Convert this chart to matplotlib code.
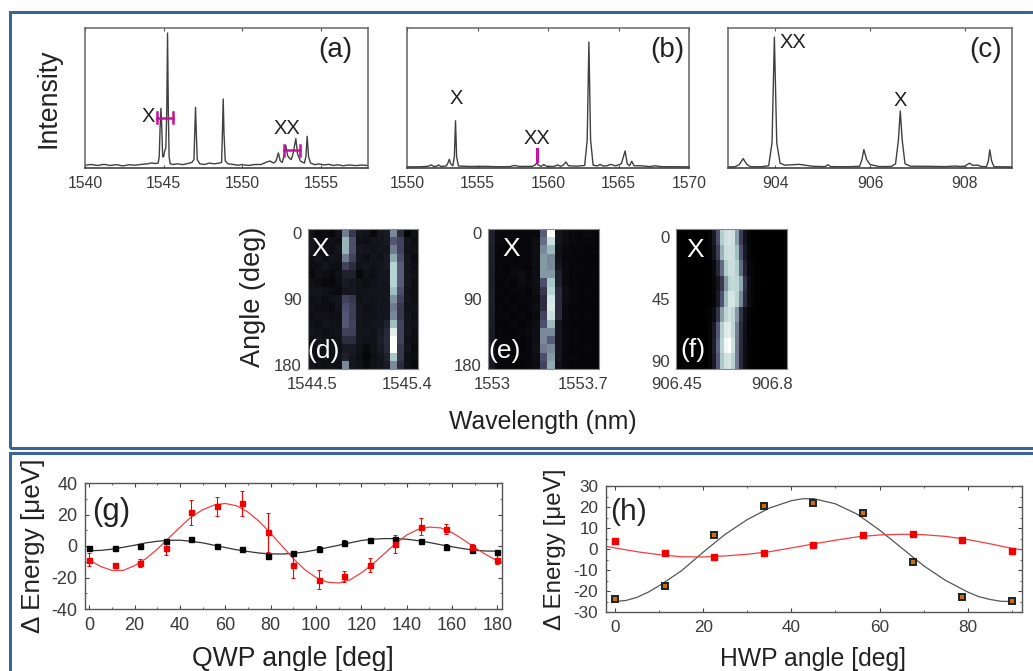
import matplotlib
matplotlib.use("Agg")
import matplotlib.pyplot as plt
from matplotlib.patches import Rectangle

plt.rcParams['font.family'] = ['Liberation Sans', 'DejaVu Sans']
plt.rcParams['axes.unicode_minus'] = False

W, H = 1033, 671
TEXT = '#3a3a3a'
PINK = '#c8109c'
FRAME = '#3c6496'

# spectra (intensity in % of the panel height)
a_x = [1540, 1540.4, 1540.8, 1541.2, 1541.6, 1542, 1542.4, 1542.8, 1543.2, 1543.6, 1544, 1544.2, 1544.5, 1544.65,
       1544.72, 1544.78, 1544.83, 1544.88, 1544.94, 1545.0, 1545.08, 1545.14, 1545.2, 1545.25, 1545.3, 1545.35,
       1545.42, 1545.6, 1545.9, 1546.2, 1546.5, 1546.8, 1546.93, 1546.98, 1547.03, 1547.08, 1547.14, 1547.3,
       1547.6, 1547.9, 1548.2, 1548.5, 1548.69, 1548.74, 1548.79, 1548.84, 1548.92, 1549.1, 1549.4, 1549.7,
       1550, 1550.4, 1550.8, 1551.2, 1551.5, 1551.76, 1552, 1552.15, 1552.3, 1552.42, 1552.55, 1552.68, 1552.77,
       1552.88, 1553.0, 1553.12, 1553.25, 1553.41, 1553.52, 1553.7, 1553.95, 1554.05, 1554.13, 1554.22, 1554.35,
       1554.6, 1554.9, 1555.2, 1555.5, 1555.8, 1556.1, 1556.4, 1556.8, 1557.2, 1557.6, 1558]
a_y = [2, 2.5, 1.8, 2.6, 1.8, 2.4, 1.5, 2.3, 2, 2.6, 3, 3.6, 3.2, 3.5,
       8, 30, 42.6, 30, 8, 8, 12.7, 14, 40, 96.4, 40, 8,
       3, 2.5, 3, 2.4, 3.1, 4, 6, 25, 43.3, 25, 6, 3,
       2.5, 3.5, 3, 3.4, 4, 25, 49.3, 25, 5, 3, 2.6, 2,
       2.4, 1.8, 2.5, 2.5, 4, 5, 3.5, 5, 10.8, 5, 4, 10, 16.3,
       9, 7, 6, 11, 21, 10, 5, 3.5, 8, 22.7, 8, 3.5,
       2.4, 2.9, 2.2, 2.6, 1.8, 2.3, 1.6, 2.2, 1.7, 2.1, 1.8]

b_x = [1550, 1551, 1551.5, 1551.7, 1551.9, 1552.1, 1552.24, 1552.4, 1552.8, 1552.92, 1553.0, 1553.1, 1553.25, 1553.36,
       1553.44, 1553.52, 1553.65, 1554.5, 1555.5, 1556.5, 1557.3, 1557.6, 1558, 1558.9, 1559.1, 1559.2, 1559.3, 1559.5,
       1559.7, 1559.9, 1560.4, 1560.7, 1560.9, 1561.1, 1561.27, 1561.45, 1562, 1562.6, 1562.78, 1562.9, 1563.02, 1563.2,
       1563.5, 1563.7, 1563.9, 1564.2, 1564.45, 1564.8, 1565.2, 1565.47, 1565.62, 1565.78, 1565.94, 1566.1, 1566.6,
       1567.2, 1567.6, 1568, 1568.8, 1569.4, 1570]
b_y = [0.8, 0.9, 1.2, 2.2, 1.1, 1.2, 2.2, 1.1, 1.5, 4, 6.2, 3, 1.6, 8,
       33.7, 8, 1.4, 1.1, 1.2, 0.9, 1.0, 1.8, 1.1, 1.2, 2.2, 3.8, 2.2, 1.2,
       2.4, 1.2, 1.1, 2.2, 1.1, 2.2, 4.3, 1.6, 1.3, 1.8, 20, 90, 20, 2,
       1.5, 2.6, 1.4, 1.6, 2.6, 1.5, 3, 12.2, 3, 1.6, 4.8, 1.6, 1.6,
       1, 1.6, 1, 0.9, 0.9, 0.8]

c_x = [903, 903.15, 903.24, 903.32, 903.4, 903.48, 903.7, 903.86, 903.93, 903.98, 904.03, 904.1, 904.2, 904.5,
       904.8, 905.05, 905.11, 905.17, 905.5, 905.78, 905.83, 905.87, 905.93, 906, 906.2, 906.45, 906.54, 906.6, 906.64,
       906.68, 906.74, 906.85, 907.2, 907.6, 907.8, 907.9, 908.0, 908.1, 908.18, 908.26, 908.34, 908.46, 908.5, 908.53,
       908.57, 908.62, 909]
c_y = [0.8, 0.9, 2.5, 6.7, 2.5, 0.9, 0.9, 1.6, 18, 93.5, 18, 3.5, 2, 2.6,
       1.2, 1, 2.3, 1, 0.9, 1.2, 6, 13.2, 6, 2.5, 1, 1.1, 3, 20, 40.7,
       20, 3, 1.3, 1.2, 1, 1.4, 1.1, 1.3, 3.4, 1.8, 2.2, 1.2, 0.9, 5, 13,
       5, 0.9, 0.8]

# angle maps, % brightness, one list per row (0 deg at the top)
d_rows = [
    [8, 5, 6, 4, 8, 50, 25, 10, 8, 4, 10, 12, 55, 20, 3, 8],
    [10, 7, 6, 8, 7, 68, 35, 8, 7, 9, 10, 12, 38, 30, 9, 6],
    [9, 7, 8, 6, 9, 68, 35, 10, 9, 8, 10, 10, 50, 30, 8, 8],
    [7, 9, 6, 9, 8, 50, 30, 9, 7, 9, 8, 12, 65, 35, 10, 5],
    [6, 7, 10, 7, 6, 30, 20, 8, 9, 8, 10, 12, 80, 40, 10, 7],
    [5, 8, 7, 5, 8, 15, 15, 4, 8, 7, 9, 10, 80, 40, 9, 8],
    [8, 6, 5, 4, 7, 12, 10, 8, 7, 8, 10, 10, 80, 40, 10, 6],
    [9, 9, 8, 6, 5, 10, 10, 8, 8, 9, 9, 10, 72, 35, 8, 7],
    [7, 8, 6, 8, 9, 30, 25, 8, 9, 8, 10, 10, 58, 30, 9, 6],
    [8, 6, 7, 5, 9, 35, 28, 9, 7, 8, 9, 10, 50, 25, 8, 8],
    [7, 8, 8, 7, 7, 38, 28, 10, 8, 8, 10, 10, 55, 25, 9, 7],
    [8, 7, 9, 8, 8, 38, 30, 9, 8, 9, 10, 15, 72, 30, 9, 8],
    [9, 8, 7, 8, 9, 30, 28, 9, 9, 8, 12, 18, 92, 30, 10, 7],
    [7, 9, 8, 7, 8, 20, 20, 9, 8, 8, 14, 20, 100, 30, 8, 6],
    [6, 8, 7, 8, 7, 12, 12, 8, 5, 8, 12, 18, 100, 25, 9, 5],
    [8, 7, 8, 7, 8, 15, 10, 6, 3, 7, 10, 15, 75, 25, 7, 6],
    [9, 8, 7, 8, 7, 55, 10, 8, 5, 8, 9, 12, 55, 20, 8, 4],
]
e_rows = [
    [15, 5, 4, 4, 3, 4, 5, 40, 100, 10, 6, 5, 4, 5, 4],
    [15, 5, 4, 4, 4, 4, 6, 45, 85, 10, 6, 5, 4, 4, 4],
    [14, 4, 3, 4, 4, 4, 7, 55, 70, 8, 5, 4, 4, 3, 4],
    [14, 4, 4, 3, 4, 4, 6, 60, 55, 8, 4, 4, 3, 3, 3],
    [14, 4, 3, 4, 4, 3, 6, 60, 55, 10, 5, 4, 4, 3, 3],
    [13, 4, 3, 5, 6, 4, 7, 60, 60, 15, 5, 3, 3, 3, 4],
    [13, 3, 4, 3, 6, 5, 7, 35, 75, 15, 5, 4, 3, 3, 4],
    [14, 4, 3, 4, 4, 3, 6, 25, 80, 20, 6, 4, 3, 4, 3],
    [14, 3, 4, 3, 4, 4, 5, 20, 88, 20, 6, 4, 3, 3, 4],
    [14, 4, 3, 4, 3, 4, 6, 20, 90, 20, 5, 3, 3, 3, 3],
    [13, 4, 4, 3, 4, 3, 5, 30, 85, 20, 5, 4, 3, 4, 3],
    [13, 3, 3, 4, 3, 4, 6, 35, 70, 10, 4, 3, 3, 3, 3],
    [12, 4, 3, 3, 4, 5, 7, 55, 55, 10, 5, 4, 3, 3, 3],
    [12, 4, 4, 3, 3, 4, 7, 55, 40, 10, 5, 4, 3, 3, 3],
    [12, 3, 3, 4, 3, 4, 8, 50, 55, 10, 5, 3, 3, 4, 3],
    [11, 4, 3, 3, 4, 4, 6, 35, 60, 10, 4, 4, 3, 3, 3],
    [11, 3, 4, 3, 3, 4, 6, 30, 65, 8, 4, 3, 3, 3, 3],
]
f_rows = [
    [0, 0, 0, 0, 0, 0, 0, 1, 3, 12, 35, 78, 86, 88, 86, 62, 28, 9, 3, 1, 1, 0, 0, 0, 0, 0, 0, 0],
    [0, 0, 0, 0, 0, 0, 0, 1, 2, 9, 28, 68, 85, 86, 85, 72, 36, 12, 4, 1, 1, 0, 0, 0, 0, 0, 0, 0],
    [0, 0, 0, 0, 0, 0, 0, 0, 1, 5, 18, 45, 78, 85, 85, 78, 45, 16, 5, 2, 1, 0, 0, 0, 0, 0, 0, 0],
    [0, 0, 0, 0, 0, 0, 0, 0, 1, 3, 10, 26, 60, 80, 83, 82, 65, 24, 7, 2, 1, 1, 0, 0, 0, 0, 0, 0],
    [0, 0, 0, 0, 0, 0, 0, 0, 1, 3, 12, 36, 72, 88, 88, 80, 55, 20, 6, 2, 1, 0, 0, 0, 0, 0, 0, 0],
    [0, 0, 0, 0, 0, 0, 0, 1, 2, 6, 24, 62, 82, 86, 82, 60, 24, 8, 3, 1, 0, 0, 0, 0, 0, 0, 0, 0],
    [0, 0, 0, 0, 0, 0, 0, 1, 3, 12, 38, 78, 90, 92, 82, 52, 20, 7, 2, 1, 0, 0, 0, 0, 0, 0, 0, 0],
    [0, 0, 0, 0, 0, 0, 0, 1, 3, 14, 42, 80, 96, 100, 86, 50, 20, 6, 2, 1, 0, 0, 0, 0, 0, 0, 0, 0],
    [0, 0, 0, 0, 0, 0, 0, 1, 3, 12, 38, 76, 86, 88, 80, 50, 18, 6, 2, 1, 0, 0, 0, 0, 0, 0, 0, 0],
]

# QWP panel
qwp_angle = [0, 11.25, 22.5, 33.75, 45, 56.25, 67.5, 78.75, 90, 101.25, 112.5, 123.75, 135, 146.25, 157.5, 168.75, 180]
qwp_red = [-8.7, -12, -10.7, -1.3, 21.5, 25.3, 27, 8.7, -12, -21.3, -19.3, -12, 1.3, 12.3, 10.7, -0.5, -8.7]
qwp_red_err = [4, 0.5, 2.5, 4.5, 8, 6, 8, 12.5, 8, 6, 3.5, 4.5, 5.5, 5.5, 3, 2, 3]
qwp_black = [-1.3, -1.2, -0.3, 3.3, 4.7, 0.3, -1.7, -6.5, -4.3, -1.7, 1.7, 3.8, 4.5, 3.3, -0.7, -2.5, -3.7]
qwp_black_err = [1.5, 0.5, 0.5, 1, 1, 0.5, 0.5, 0.5, 0.8, 1.5, 1.8, 0.5, 0.8, 0.5, 1.8, 1.2, 0.5]
qwp_fit_x = [0, 5, 10, 15, 20, 25, 30, 35, 40, 45, 50, 55, 60, 65, 70, 75, 80, 85, 90, 95, 100, 105, 110, 115, 120,
             125, 130, 135, 140, 145, 150, 155, 160, 165, 170, 175, 180]
qwp_fit_red = [-9, -13, -15.5, -15.5, -12.5, -8, -2, 5, 12, 18.5, 23, 26, 27, 25.5, 21.5, 15.5, 8, 0, -8, -15, -20,
               -23, -23.5, -21.5, -17, -11.5, -5, 1.5, 7, 10.5, 12, 11.5, 8.5, 4, -1, -5.5, -9.5]
qwp_fit_black = [-3, -2.8, -2, -0.8, 0.5, 2, 3, 3.6, 3.7, 3, 2, 0.5, -1, -2.4, -3.5, -4.5, -5, -5.1, -4.7, -3.8, -2.5,
                 -1, 0.5, 2, 3.5, 4.3, 4.7, 4.7, 4.3, 3.4, 2.2, 0.8, -0.5, -1.7, -2.7, -3.2, -3.3]

# HWP panel
hwp_angle = [0, 11.25, 22.5, 33.75, 45, 56.25, 67.5, 78.75, 90]
hwp_red = [4, -2, -3.7, -2, 2, 6.5, 7, 4.5, -1]
hwp_black = [-24, -17.5, 6.5, 20.5, 22, 17, -6, -23, -24.7]
hwp_fit_x = [0, 2.5, 5, 7.5, 10, 15, 20, 25, 30, 35, 40, 42.5, 45, 50, 55, 60, 65, 70, 75, 80, 82.5, 85, 87.5, 90]
hwp_fit_black = [-25, -24.5, -23, -20.6, -17.5, -10.5, -1.5, 7, 14, 19.5, 23, 23.9, 24, 21.5, 16.5, 9, 0.5, -8, -15,
                 -20.5, -22.7, -24, -24.9, -25]
hwp_fit_red_x = [-2, 0, 5, 10, 15, 20, 25, 30, 35, 40, 45, 50, 55, 60, 65, 70, 75, 80, 85, 90, 92]
hwp_fit_red = [1.2, 0.5, -1.3, -2.7, -3.7, -3.8, -3.3, -2.5, -1.3, 0.5, 2.4, 4.2, 5.8, 6.7, 7, 6.8, 6, 4.5, 2.5, 0.3, -0.3]


def make_axes(left, top, right, bottom):
    # box given in pixels of the picture
    return fig.add_axes([left / W, 1 - bottom / H, (right - left) / W, (bottom - top) / H])


def label(x, y, s, size, color='#222222', rotation=0):
    # text centred on a pixel position
    fig.text(x / W, 1 - y / H, s, fontsize=size, color=color, rotation=rotation, ha='center', va='center')


def spectrum(box, xs, ys, xlim, ticks, tick_labels):
    ax = make_axes(*box)
    ax.plot(xs, ys, color='#404040', lw=1.0)
    ax.set_xlim(*xlim)
    ax.set_ylim(0, 100)
    ax.set_yticks([])
    ax.set_xticks(ticks)
    ax.set_xticklabels(tick_labels, fontsize=11.3, color=TEXT)
    ax.tick_params(axis='x', direction='in', length=2, width=0.8, top=True, pad=6, color='#555555')
    for s in ax.spines.values():
        s.set_color('#666666')
        s.set_linewidth(1.1)
    ax.spines['bottom'].set_color('#333333')
    return ax


def angle_map(box, rows, x0, x1, y_max, xticks, xlabels, yticks):
    ax = make_axes(*box)
    half = 11.25 / 2
    ax.imshow(rows, cmap='bone', vmin=0, vmax=100, aspect='auto', interpolation='nearest',
              extent=[x0, x1, y_max + half, -half])
    ax.set_xticks(xticks)
    ax.set_xticklabels(xlabels, fontsize=12, color=TEXT)
    ax.set_yticks(yticks)
    ax.set_yticklabels([str(t) for t in yticks], fontsize=12, color=TEXT)
    ax.tick_params(axis='y', length=0, pad=4.5)
    ax.tick_params(axis='x', length=0, pad=6)
    for s in ax.spines.values():
        s.set_color('#888888')
        s.set_linewidth(0.8)
    return ax


def style_scan(ax, size):
    ax.tick_params(which='both', direction='in', top=True, right=True, color='#444444', labelsize=size,
                   labelcolor=TEXT, pad=5.5)
    ax.tick_params(which='major', length=3, width=0.8)
    ax.tick_params(which='minor', length=1.5, width=0.6)
    for s in ax.spines.values():
        s.set_color('#555555')
        s.set_linewidth(1.0)


fig = plt.figure(figsize=(W / 100, H / 100), dpi=100)

# blue frames round the two halves
fig.add_artist(Rectangle((10 / W, 1 - 448 / H), 1030 / W, 436 / H, transform=fig.transFigure, fill=False,
                         ec=FRAME, lw=2.2))
fig.add_artist(Rectangle((10 / W, -20 / H), 1030 / W, (H + 20 - 453) / H, transform=fig.transFigure, fill=False,
                         ec=FRAME, lw=2.2))

# top row: spectra
ax_a = spectrum((85, 28, 368, 168), a_x, a_y, (1540, 1558), [1540, 1545, 1550, 1555],
                ['1540', '1545', '1550', '1555'])
ax_a.plot([1544.6, 1545.6], [36, 36], color=PINK, lw=1.8)
ax_a.plot([1552.67, 1553.67], [12.7, 12.7], color=PINK, lw=1.8)
for x_cap, y_cap in [(1544.6, 36), (1545.6, 36), (1552.67, 12.7), (1553.67, 12.7)]:
    ax_a.plot([x_cap, x_cap], [y_cap - 4, y_cap + 4], color=PINK, lw=1.8)

ax_b = spectrum((407, 28, 689, 168), b_x, b_y, (1550, 1570), [1550, 1555, 1560, 1565, 1570],
                ['1550', '1555', '1560', '1565', '1570'])
ax_b.plot([1559.2, 1559.2], [5, 13.4], color=PINK, lw=2.2)

spectrum((728, 28, 1012, 168), c_x, c_y, (903, 909), [904, 906, 908], ['904', '906', '908'])

# middle row: angle maps
angle_map((308, 229, 418, 369), d_rows, 1544.462, 1545.504, 180, [1544.5, 1545.4], ['1544.5', '1545.4'], [0, 90, 180])
angle_map((488, 229, 599, 369), e_rows, 1552.969, 1553.823, 180, [1553, 1553.7], ['1553', '1553.7'], [0, 90, 180])
angle_map((676, 229, 787, 369), f_rows, 906.446, 906.855, 90, [906.45, 906.8], ['906.45', '906.8'], [0, 45, 90])

# bottom left: QWP
ax_g = make_axes(85, 483, 502, 609)
ax_g.plot(qwp_fit_x, qwp_fit_black, color='#333333', lw=0.9)
ax_g.plot(qwp_fit_x, qwp_fit_red, color='#f04040', lw=0.9)
ax_g.errorbar(qwp_angle, qwp_black, yerr=qwp_black_err, fmt='s', color='black', ms=3.6, elinewidth=0.8, capsize=1.5,
              capthick=0.7)
ax_g.errorbar(qwp_angle, qwp_red, yerr=qwp_red_err, fmt='s', color='#f00000', ms=3.6, elinewidth=0.8, capsize=1.5,
              capthick=0.7)
ax_g.set_xlim(-1.9, 182)
ax_g.set_ylim(-40, 40)
ax_g.set_xticks(range(0, 181, 20))
ax_g.set_xticks(range(10, 181, 20), minor=True)
ax_g.set_yticks([-40, -20, 0, 20, 40])
ax_g.set_yticks([-30, -10, 10, 30], minor=True)
style_scan(ax_g, 13)

# bottom right: HWP
ax_h = make_axes(606, 486, 1022, 612)
ax_h.plot(hwp_fit_x, hwp_fit_black, color='#555555', lw=0.9)
ax_h.plot(hwp_fit_red_x, hwp_fit_red, color='#f04040', lw=0.9)
ax_h.plot(hwp_angle, hwp_black, 's', mfc='#c87010', mec='#222222', mew=1.4, ms=4)
ax_h.plot(hwp_angle, hwp_red, 's', color='#f00000', ms=4.4)
ax_h.set_xlim(-2.04, 92.3)
ax_h.set_ylim(-30, 30)
ax_h.set_xticks(range(0, 81, 20))
ax_h.set_xticks(range(10, 91, 20), minor=True)
ax_h.set_yticks(range(-30, 31, 10))
ax_h.set_yticks(range(-25, 26, 10), minor=True)
style_scan(ax_h, 12.3)

# axis titles
label(48, 98, 'Intensity', 19.3, rotation=90)
label(253, 297, 'Angle (deg)', 19.5, rotation=90)
label(543, 422, 'Wavelength (nm)', 17.8)
label(293, 659, 'QWP angle [deg]', 19.2)
label(813, 659, 'HWP angle [deg]', 17.8)
label(33, 546, '\u0394 Energy [\u03bceV]', 18.8, rotation=90)
label(555, 549, '\u0394 Energy [\u03bceV]', 17.4, rotation=90)

# panel letters and line names
for x, y, s in [(335, 50, '(a)'), (667, 50, '(b)'), (986, 50, '(c)')]:
    label(x, y, s, 20)
for x, y, s in [(324, 351, '(d)'), (505, 351, '(e)'), (693, 350, '(f)'),
                (320, 249, 'X'), (511, 249, 'X'), (695, 250, 'X')]:
    label(x, y, s, 19, color='white')
label(111, 512, '(g)', 22.5)
label(629, 512, '(h)', 21.6)
for x, y, s in [(148, 117, 'X'), (287, 128, 'XX'), (456, 98, 'X'), (537, 139, 'XX'), (793, 43, 'XX'), (900, 100, 'X')]:
    label(x, y, s, 14.5)

fig.savefig('out.png', dpi=100)
